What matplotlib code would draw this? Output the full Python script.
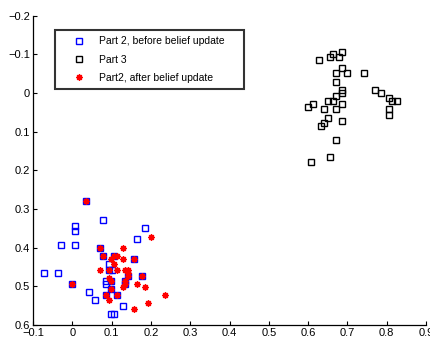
import matplotlib
matplotlib.use("Agg")
import matplotlib.pyplot as plt

plt.rcParams['font.family'] = ['Liberation Sans', 'DejaVu Sans']

# Part 2, before belief update (blue squares)
before_x = [0.035, 0.078, 0.007, 0.007, 0.185, 0.164, -0.029, 0.007, 0.070, 0.078,
            0.106, 0.156, 0.093, 0.093, 0.100, -0.071, -0.036, 0.178, 0.143, 0.135,
            0.135, 0.086, 0.086, 0.099, -0.001, 0.099, 0.042, 0.086, 0.114, 0.057,
            0.128, 0.099, 0.106]
before_y = [0.278, 0.328, 0.343, 0.357, 0.350, 0.378, 0.393, 0.393, 0.400, 0.422,
            0.422, 0.428, 0.443, 0.458, 0.458, 0.465, 0.465, 0.472, 0.472, 0.486,
            0.493, 0.486, 0.493, 0.486, 0.493, 0.508, 0.515, 0.522, 0.522, 0.536,
            0.551, 0.572, 0.572]

# Part 3 (black squares)
part3_x = [0.628, 0.656, 0.663, 0.678, 0.685, 0.685, 0.671, 0.699, 0.742, 0.671,
           0.685, 0.685, 0.671, 0.770, 0.785, 0.806, 0.813, 0.827, 0.806, 0.806,
           0.650, 0.663, 0.685, 0.613, 0.599, 0.641, 0.671, 0.650, 0.685, 0.641,
           0.634, 0.671, 0.656, 0.607]
part3_y = [-0.085, -0.094, -0.101, -0.094, -0.107, -0.064, -0.051, -0.051, -0.051, -0.029,
           -0.008, -0.001, 0.008, -0.008, -0.001, 0.014, 0.021, 0.021, 0.042, 0.057,
           0.021, 0.021, 0.028, 0.028, 0.035, 0.042, 0.042, 0.064, 0.072, 0.078,
           0.085, 0.122, 0.165, 0.178]

# Part 2, after belief update (red stars)
after_x = [0.035, 0.070, 0.128, 0.199, 0.078, 0.106, 0.114, 0.099, 0.128, 0.156,
           0.106, 0.070, 0.093, 0.114, 0.135, 0.143, 0.143, 0.143, 0.178, 0.093,
           0.135, 0.099, 0.135, 0.164, -0.001, 0.128, 0.185, 0.099, 0.086, 0.114,
           0.235, 0.093, 0.192, 0.156]
after_y = [0.278, 0.400, 0.400, 0.372, 0.422, 0.422, 0.422, 0.428, 0.428, 0.428,
           0.443, 0.458, 0.458, 0.458, 0.458, 0.458, 0.465, 0.472, 0.472, 0.479,
           0.486, 0.486, 0.493, 0.493, 0.493, 0.501, 0.501, 0.508, 0.522, 0.522,
           0.522, 0.536, 0.543, 0.558]

labels = ['Part 2, before belief update', 'Part 3', 'Part2, after belief update']

fig = plt.figure(figsize=(4.30, 3.38), dpi=100)
ax = fig.add_axes([33/430, 1-325/338, (426-33)/430, (325-15.7)/338])

ax.plot(before_x, before_y, linestyle='none', marker='s', markersize=4.6,
        markerfacecolor='none', markeredgecolor='#0000ff', markeredgewidth=1.0, label=labels[0])
ax.plot(part3_x, part3_y, linestyle='none', marker='s', markersize=4.6,
        markerfacecolor='none', markeredgecolor='black', markeredgewidth=1.0, label=labels[1])
ax.plot(after_x, after_y, linestyle='none', marker=(8, 2, 0), markersize=4.6,
        color='#ff0000', markeredgewidth=1.0, label=labels[2])

ax.set_xlim(-0.1, 0.9)
ax.set_ylim(0.6, -0.2)
ax.set_xticks([-0.1, 0, 0.1, 0.2, 0.3, 0.4, 0.5, 0.6, 0.7, 0.8, 0.9])
ax.set_xticklabels(['\u22120.1', '0', '0.1', '0.2', '0.3', '0.4', '0.5', '0.6', '0.7', '0.8', '0.9'])
ax.set_yticks([-0.2, -0.1, 0, 0.1, 0.2, 0.3, 0.4, 0.5, 0.6])
ax.set_yticklabels(['\u22120.2', '\u22120.1', '0', '0.1', '0.2', '0.3', '0.4', '0.5', '0.6'])
ax.tick_params(direction='in', length=3, labelsize=8, width=0.8, pad=2)
ax.spines['top'].set_visible(False)
ax.spines['right'].set_visible(False)
for s in ['left', 'bottom']:
    ax.spines[s].set_linewidth(0.9)

leg = ax.legend(loc='upper left',
                bbox_to_anchor=(55/430, 1-89/338, 189/430, 59/338),
                bbox_transform=fig.transFigure, mode='expand',
                fontsize=7.5, frameon=True, fancybox=False, borderaxespad=0,
                borderpad=0.6, labelspacing=0.8,
                handlelength=3.4, handletextpad=0.25, numpoints=1)
leg.get_frame().set_edgecolor('black')
leg.get_frame().set_linewidth(1.5)

fig.savefig('out.png', dpi=100)
